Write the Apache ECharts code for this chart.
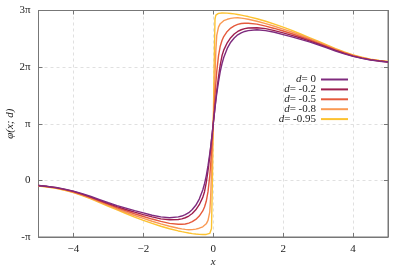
<!DOCTYPE html>
<html><head><meta charset="utf-8">
<script src="https://cdn.jsdelivr.net/npm/echarts@6/dist/echarts.min.js"></script>
<style>html,body{margin:0;padding:0;background:#fff}#c{width:407px;height:271px}</style>
</head><body><div id="c"></div>
<script>
// x positions (shared by all curves)
const xs = [-5,-4.75,-4.5,-4.25,-4,-3.75,-3.5,-3.25,-3,-2.75,-2.5,-2.25,-2,-1.75,-1.5,-1.25,-1,
            -0.9,-0.8,-0.7,-0.6,-0.5,-0.4,-0.3,-0.25,-0.2,-0.15,-0.1,-0.075,-0.05,-0.025,
            0,
            0.025,0.05,0.075,0.1,0.15,0.2,0.25,0.3,0.4,0.5,0.6,0.7,0.8,0.9,
            1,1.25,1.5,1.75,2,2.25,2.5,2.75,3,3.25,3.5,3.75,4,4.25,4.5,4.75,5];
// phase values phi(x;d) in units of pi
const phi_d0 = [-0.090,-0.105,-0.125,-0.155,-0.190,-0.235,-0.285,-0.340,-0.395,-0.445,-0.490,-0.535,-0.575,-0.615,-0.645,-0.660,-0.645,
                -0.630,-0.605,-0.570,-0.515,-0.440,-0.330,-0.170,-0.060,0.080,0.260,0.470,0.590,0.720,0.860,
                1,
                1.140,1.280,1.410,1.530,1.740,1.920,2.060,2.170,2.330,2.440,2.515,2.570,2.605,2.630,
                2.645,2.660,2.645,2.615,2.575,2.535,2.490,2.445,2.395,2.340,2.285,2.235,2.190,2.155,2.125,2.105,2.090];
const phi_d02 = [-0.090,-0.107,-0.128,-0.158,-0.195,-0.242,-0.295,-0.352,-0.410,-0.465,-0.515,-0.562,-0.605,-0.645,-0.680,-0.695,-0.690,
                 -0.680,-0.660,-0.630,-0.585,-0.520,-0.430,-0.300,-0.200,-0.040,0.170,0.420,0.560,0.710,0.855,
                 1,
                 1.145,1.290,1.440,1.580,1.830,2.040,2.200,2.300,2.430,2.520,2.585,2.630,2.660,2.680,
                 2.690,2.695,2.680,2.645,2.605,2.562,2.515,2.465,2.410,2.352,2.295,2.242,2.195,2.158,2.128,2.107,2.090];
const phi_d05 = [-0.093,-0.110,-0.132,-0.163,-0.202,-0.250,-0.305,-0.365,-0.425,-0.483,-0.537,-0.590,-0.638,-0.683,-0.725,-0.760,-0.775,
                 -0.775,-0.770,-0.755,-0.730,-0.690,-0.630,-0.540,-0.470,-0.370,-0.200,0.080,0.280,0.500,0.750,
                 1,
                 1.250,1.500,1.720,1.920,2.200,2.370,2.470,2.540,2.630,2.690,2.730,2.755,2.770,2.775,
                 2.775,2.760,2.725,2.683,2.638,2.590,2.537,2.483,2.425,2.365,2.305,2.250,2.202,2.163,2.132,2.110,2.093];
const phi_d08 = [-0.097,-0.114,-0.137,-0.169,-0.210,-0.260,-0.318,-0.380,-0.443,-0.505,-0.563,-0.620,-0.672,-0.722,-0.768,-0.810,-0.845,
                 -0.857,-0.866,-0.872,-0.870,-0.860,-0.845,-0.820,-0.800,-0.767,-0.707,-0.560,-0.300,0.150,0.600,
                 1,
                 1.400,1.850,2.300,2.560,2.707,2.767,2.800,2.820,2.845,2.860,2.870,2.872,2.866,2.857,
                 2.845,2.810,2.768,2.722,2.672,2.620,2.563,2.505,2.443,2.380,2.318,2.260,2.210,2.169,2.137,2.114,2.097];
const phi_d095 = [-0.100,-0.118,-0.142,-0.175,-0.217,-0.268,-0.328,-0.392,-0.457,-0.522,-0.585,-0.648,-0.705,-0.760,-0.810,-0.855,-0.893,
                  -0.906,-0.918,-0.930,-0.940,-0.948,-0.954,-0.957,-0.957,-0.955,-0.950,-0.937,-0.918,-0.850,0.000,
                  1,
                  2.000,2.850,2.918,2.937,2.950,2.955,2.957,2.957,2.954,2.948,2.940,2.930,2.918,2.906,
                  2.893,2.855,2.810,2.760,2.705,2.648,2.585,2.522,2.457,2.392,2.328,2.268,2.217,2.175,2.142,2.118,2.100];
const seriesNames = ['d= 0','d= -0.2','d= -0.5','d= -0.8','d= -0.95'];
const seriesColors = ['#7e2b7e','#9e1f4f','#e55a3c','#f99a54','#fcc230'];
const xTicks = [-4,-2,0,2,4];
const xTickLabels = ['\u22124','\u22122','0','2','4'];
const yTicks = [-1,0,1,2,3];
const yTickLabels = ['-\u03c0','0','\u03c0','2\u03c0','3\u03c0'];

const allY = [phi_d0, phi_d02, phi_d05, phi_d08, phi_d095];
const FONT = 'Liberation Serif';
const chart = echarts.init(document.getElementById('c'), null, {renderer:'canvas'});
const gridLine = {show:true, lineStyle:{color:'#d8d8d8', type:[3,3], width:0.8}};
chart.setOption({
  animation:false,
  grid:{left:38.5, right:19, top:10.5, bottom:34, show:true, borderColor:'#777', borderWidth:1, backgroundColor:'transparent',
        containLabel:false, outerBoundsMode:'none'},
  legend:{
    orient:'vertical', right:54, top:69, align:'right', icon:'rect', itemWidth:27, itemHeight:2, itemGap:-1.1,
    textStyle:{fontFamily:FONT, fontSize:11, color:'#222', lineHeight:10,
      rich:{i:{fontFamily:FONT, fontStyle:'italic', fontSize:11, color:'#222', lineHeight:10}, n:{fontFamily:FONT, fontSize:11, color:'#222', lineHeight:10}}},
    formatter: n => '{i|d}{n|' + n.slice(1) + '}',
    data: seriesNames
  },
  xAxis:[{
    type:'value', min:-5, max:5, position:'bottom',
    name:'x', nameLocation:'middle', nameGap:20, nameMoveOverlap:false,
    nameTextStyle:{fontFamily:FONT, fontStyle:'italic', fontSize:11, color:'#222'},
    axisLine:{show:true, onZero:false, lineStyle:{color:'#777'}},
    axisTick:{show:true, inside:true, length:4, customValues:xTicks, lineStyle:{color:'#777'}},
    axisLabel:{show:true, customValues:xTicks, formatter:v=>xTickLabels[xTicks.indexOf(v)], fontFamily:FONT, fontSize:11, color:'#222', margin:7},
    splitLine:gridLine
  },{
    type:'value', min:-5, max:5, position:'top',
    axisLine:{show:true, onZero:false, lineStyle:{color:'#777'}},
    axisTick:{show:true, inside:true, length:4, customValues:xTicks, lineStyle:{color:'#777'}},
    axisLabel:{show:false}, splitLine:{show:false}
  }],
  yAxis:[{
    type:'value', min:-1, max:3, interval:1, position:'left',
    name:'\u03c6(x; d)', nameLocation:'middle', nameGap:23, nameRotate:90, nameMoveOverlap:false,
    nameTextStyle:{fontFamily:FONT, fontStyle:'italic', fontSize:11, color:'#222'},
    axisLine:{show:true, onZero:false, lineStyle:{color:'#777'}},
    axisTick:{show:true, inside:true, length:4, lineStyle:{color:'#777'}},
    axisLabel:{formatter:v=>yTickLabels[yTicks.indexOf(v)], fontFamily:FONT, fontSize:11, color:'#222', margin:8},
    splitLine:gridLine
  },{
    type:'value', min:-1, max:3, interval:1, position:'right',
    axisLine:{show:true, onZero:false, lineStyle:{color:'#777'}},
    axisTick:{show:true, inside:true, length:4, lineStyle:{color:'#777'}},
    axisLabel:{show:false}, splitLine:{show:false}
  }],
  series: seriesNames.map((nm,k)=>({
    name:nm, type:'line', xAxisIndex:0, yAxisIndex:0,
    data: xs.map((x,i)=>[x, allY[k][i]]),
    showSymbol:false, smooth:false,
    lineStyle:{width:1.4, color:seriesColors[k]}, itemStyle:{color:seriesColors[k]},
    z: 10 - k
  }))
});
</script></body></html>
